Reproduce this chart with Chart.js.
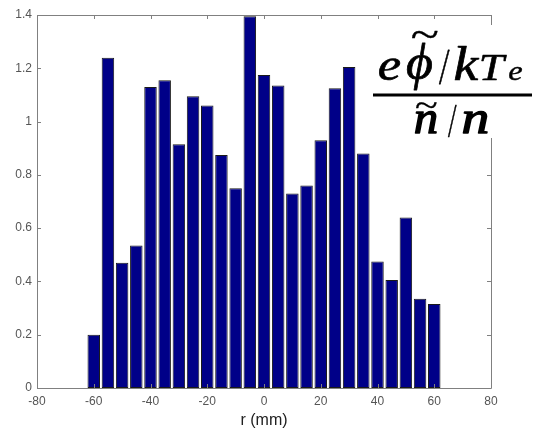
<!DOCTYPE html>
<html>
<head>
<meta charset="utf-8">
<script src="https://cdn.jsdelivr.net/npm/chart.js@4.4.1/dist/chart.umd.min.js"></script>
<style>
  html, body { margin: 0; padding: 0; background: #ffffff; }
  #wrap { width: 533px; height: 434px; position: relative; }
</style>
</head>
<body>
<div id="wrap"><canvas id="c" width="533" height="434"></canvas></div>
<script>
// Radial positions (mm) and the measured potential/density fluctuation ratio
const radiusMm = [-60, -55, -50, -45, -40, -35, -30, -25, -20, -15, -10, -5, 0,
                  5, 10, 15, 20, 25, 30, 35, 40, 45, 50, 55, 60];
const ratio = [0.20, 1.24, 0.47, 0.535, 1.13, 1.155, 0.915, 1.095, 1.06, 0.875, 0.75, 1.395, 1.175,
               1.135, 0.73, 0.76, 0.93, 1.125, 1.205, 0.88, 0.475, 0.405, 0.64, 0.335, 0.315];
const xTicks = [-80, -60, -40, -20, 0, 20, 40, 60, 80];
const yTicks = [0, 0.2, 0.4, 0.6, 0.8, 1, 1.2, 1.4];

const points = radiusMm.map((r, i) => ({ x: r, y: ratio[i] }));

// Boxed axes with short inward tick marks on all four sides
const frameTicks = {
  id: 'frameTicks',
  afterDraw(chart) {
    const { ctx, chartArea: a, scales } = chart;
    const len = 4;
    ctx.save();
    ctx.strokeStyle = '#808080';
    ctx.lineWidth = 1;
    ctx.beginPath();
    ctx.rect(Math.round(a.left) + 0.5, Math.round(a.top) + 0.5,
             Math.round(a.right - a.left), Math.round(a.bottom - a.top));
    xTicks.forEach(v => {
      const px = Math.round(scales.x.getPixelForValue(v)) + 0.5;
      ctx.moveTo(px, a.top); ctx.lineTo(px, a.top + len);
      ctx.moveTo(px, a.bottom); ctx.lineTo(px, a.bottom - len);
    });
    yTicks.forEach(v => {
      const py = Math.round(scales.y.getPixelForValue(v)) + 0.5;
      ctx.moveTo(a.left, py); ctx.lineTo(a.left + len, py);
      ctx.moveTo(a.right, py); ctx.lineTo(a.right - len, py);
    });
    ctx.stroke();
    ctx.restore();
  }
};

// Draws one glyph stretched to fill the box (x0,y0)-(x1,y1)
function glyph(ctx, ch, font, x0, y0, x1, y1, weight) {
  ctx.save();
  ctx.font = font;
  ctx.textAlign = 'left';
  ctx.textBaseline = 'alphabetic';
  const m = ctx.measureText(ch);
  const gw = m.actualBoundingBoxLeft + m.actualBoundingBoxRight;
  const gh = m.actualBoundingBoxAscent + m.actualBoundingBoxDescent;
  ctx.translate(x0, y0);
  ctx.scale((x1 - x0) / gw, (y1 - y0) / gh);
  ctx.fillText(ch, m.actualBoundingBoxLeft, m.actualBoundingBoxAscent);
  if (weight) {
    ctx.lineWidth = weight;
    ctx.lineJoin = 'round';
    ctx.strokeStyle = ctx.fillStyle;
    ctx.strokeText(ch, m.actualBoundingBoxLeft, m.actualBoundingBoxAscent);
  }
  ctx.restore();
}

// Fraction label  e·phi~ / kTe  over  n~ / n
const ratioLabel = {
  id: 'ratioLabel',
  afterDraw(chart) {
    const ctx = chart.ctx;
    ctx.save();
    ctx.fillStyle = '#ffffff';
    ctx.fillRect(368, 25, 165, 113);
    ctx.fillStyle = '#000000';
    const f = 'italic 40px "Liberation Serif", "Times New Roman", serif';
    const fr = '40px "Liberation Serif", "Times New Roman", serif';
    const w = 0.6;
    // numerator
    glyph(ctx, 'e', f, 379, 57, 400, 80, w);
    glyph(ctx, '\u03D5', f, 406, 43, 432, 90, w);
    glyph(ctx, '~', fr, 412, 31, 438, 38, 0.3);
    glyph(ctx, '/', f, 439, 50, 450, 83, w);
    glyph(ctx, 'k', f, 455, 46, 480, 80, w);
    glyph(ctx, 'T', f, 481, 55, 507, 80, w);
    glyph(ctx, 'e', f, 509, 66, 522, 80, w);
    // fraction bar
    ctx.fillRect(373, 93.5, 159, 3);
    // denominator
    glyph(ctx, '~', fr, 416, 101, 437, 107, 0.3);
    glyph(ctx, 'n', f, 415, 110, 437, 133, 1.2);
    glyph(ctx, '/', f, 448, 105, 457, 137, w);
    glyph(ctx, 'n', f, 463, 110, 488, 133, 1.2);
    ctx.restore();
  }
};

new Chart(document.getElementById('c'), {
  type: 'bar',
  data: {
    datasets: [{
      data: points,
      backgroundColor: '#000088',
      borderColor: '#1a1a1a',
      borderWidth: 1,
      borderSkipped: false,
      barPercentage: 0.88,
      categoryPercentage: 1.0
    }]
  },
  plugins: [frameTicks, ratioLabel],
  options: {
    responsive: false,
    animation: false,
    events: [],
    layout: { padding: { top: 15, right: 42, left: 0, bottom: 0 } },
    plugins: { legend: { display: false }, tooltip: { enabled: false } },
    scales: {
      x: {
        type: 'linear',
        min: -80, max: 80,
        offset: false,
        grid: { display: false, drawTicks: false },
        border: { display: false },
        afterBuildTicks(scale) { scale.ticks = xTicks.map(v => ({ value: v })); },
        afterFit(scale) { scale.height = 46; },
        ticks: {
          color: '#555555',
          padding: 6,
          maxRotation: 0,
          font: { family: '"Liberation Sans", Arial, sans-serif', size: 12 },
          callback: v => String(v)
        },
        title: {
          display: true,
          text: 'r (mm)',
          color: '#202020',
          font: { family: '"Liberation Sans", Arial, sans-serif', size: 16 },
          padding: { top: 0, bottom: 4 }
        }
      },
      y: {
        min: 0, max: 1.4,
        grid: { display: false, drawTicks: false },
        border: { display: false },
        afterBuildTicks(scale) { scale.ticks = yTicks.map(v => ({ value: v })); },
        afterFit(scale) { scale.width = 37; },
        ticks: {
          color: '#555555',
          padding: 5,
          font: { family: '"Liberation Sans", Arial, sans-serif', size: 12 },
          callback: v => String(Math.round(v * 10) / 10)
        }
      }
    }
  }
});
</script>
</body>
</html>
